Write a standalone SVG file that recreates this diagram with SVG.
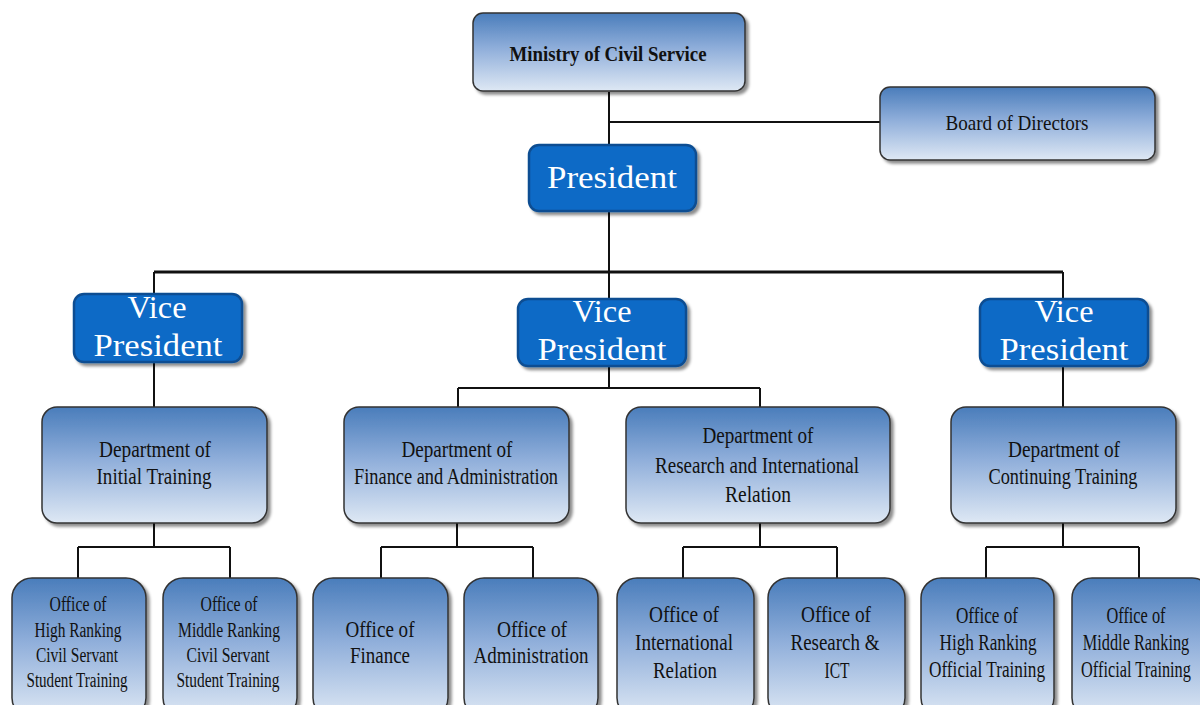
<svg xmlns="http://www.w3.org/2000/svg" width="1200" height="705" viewBox="0 0 1200 705">
<defs>
<linearGradient id="g" x1="0" y1="0" x2="0" y2="1">
<stop offset="0" stop-color="#4A7DBB"/>
<stop offset="0.45" stop-color="#8FAEDA"/>
<stop offset="1" stop-color="#DEE8F4"/>
</linearGradient>
<filter id="sh" x="-10%" y="-10%" width="130%" height="130%">
<feDropShadow dx="3" dy="3" stdDeviation="1.5" flood-color="#000" flood-opacity="0.45"/>
</filter>
</defs>
<style>
.box{fill:url(#g);stroke:#333;stroke-width:1.5;filter:url(#sh)}
.blue{fill:#106AC6;stroke:#0C4E92;stroke-width:2.5;filter:url(#sh)}
.t{font-family:"Liberation Serif",serif;fill:#111;text-anchor:middle}
.w{font-family:"Liberation Serif",serif;fill:#fff;text-anchor:middle;font-size:31px}
.c{fill:none;stroke:#111;stroke-width:2}
</style>
<rect width="1200" height="705" fill="#fff"/>
<g id="connectors">
<path class="c" d="M609 92V145M609 122H880M609 211V299M154 272V294M1063 272V299M609 366V388M458 388H760M458 388V407M760 388V407M154 362V407M1063 366V407M154 523V547M78 547H230M78 547V578M230 547V578M457 523V547M381 547H533M381 547V578M533 547V578M760 523V547M683 547H837M683 547V578M837 547V578M1063 523V547M986 547H1139M986 547V578M1139 547V578"/>
<path d="M154 272H1063" stroke="#111" stroke-width="3" fill="none"/>
</g>
<g id="ministry">
<rect class="box" x="473" y="13" width="272" height="78" rx="10"/>
<text class="t" x="608" y="61" font-size="22" font-weight="bold" textLength="197" lengthAdjust="spacingAndGlyphs">Ministry of Civil Service</text>
</g>
<g id="board">
<rect class="box" x="880" y="87" width="275" height="73" rx="10"/>
<text class="t" x="1017" y="130" font-size="22" textLength="143" lengthAdjust="spacingAndGlyphs">Board of Directors</text>
</g>
<g id="president">
<rect class="blue" x="529" y="145" width="167" height="66" rx="10"/>
<text class="w" x="612" y="188" textLength="130" lengthAdjust="spacingAndGlyphs">President</text>
</g>
<g id="vp1">
<rect class="blue" x="74" y="294" width="168" height="68" rx="10"/>
<text class="w" x="157" y="318" textLength="59" lengthAdjust="spacingAndGlyphs">Vice</text>
<text class="w" x="158" y="356" textLength="129" lengthAdjust="spacingAndGlyphs">President</text>
</g>
<g id="vp2">
<rect class="blue" x="518" y="299" width="168" height="67" rx="10"/>
<text class="w" x="602" y="322" textLength="59" lengthAdjust="spacingAndGlyphs">Vice</text>
<text class="w" x="602" y="360" textLength="129" lengthAdjust="spacingAndGlyphs">President</text>
</g>
<g id="vp3">
<rect class="blue" x="980" y="299" width="168" height="67" rx="10"/>
<text class="w" x="1064" y="322" textLength="59" lengthAdjust="spacingAndGlyphs">Vice</text>
<text class="w" x="1064" y="360" textLength="129" lengthAdjust="spacingAndGlyphs">President</text>
</g>
<g id="dept1">
<rect class="box" x="42" y="407" width="225" height="116" rx="15"/>
<text class="t" x="155" y="457" font-size="23" textLength="112" lengthAdjust="spacingAndGlyphs">Department of</text>
<text class="t" x="154" y="484" font-size="23" textLength="115" lengthAdjust="spacingAndGlyphs">Initial Training</text>
</g>
<g id="dept2">
<rect class="box" x="344" y="407" width="225" height="116" rx="15"/>
<text class="t" x="457" y="457" font-size="23" textLength="111" lengthAdjust="spacingAndGlyphs">Department of</text>
<text class="t" x="456" y="484" font-size="23" textLength="204" lengthAdjust="spacingAndGlyphs">Finance and Administration</text>
</g>
<g id="dept3">
<rect class="box" x="626" y="407" width="264" height="116" rx="15"/>
<text class="t" x="758" y="443" font-size="23" textLength="111" lengthAdjust="spacingAndGlyphs">Department of</text>
<text class="t" x="757" y="473" font-size="23" textLength="204" lengthAdjust="spacingAndGlyphs">Research and International</text>
<text class="t" x="758" y="502" font-size="23" textLength="66" lengthAdjust="spacingAndGlyphs">Relation</text>
</g>
<g id="dept4">
<rect class="box" x="951" y="407" width="225" height="116" rx="15"/>
<text class="t" x="1064" y="457" font-size="23" textLength="112" lengthAdjust="spacingAndGlyphs">Department of</text>
<text class="t" x="1063" y="484" font-size="23" textLength="149" lengthAdjust="spacingAndGlyphs">Continuing Training</text>
</g>
<g id="office1">
<rect class="box" x="12" y="578" width="134" height="140" rx="20"/>
<text class="t" x="78" y="611" font-size="20" textLength="57" lengthAdjust="spacingAndGlyphs">Office of</text>
<text class="t" x="78" y="637" font-size="20" textLength="87" lengthAdjust="spacingAndGlyphs">High Ranking</text>
<text class="t" x="77" y="662" font-size="20" textLength="82" lengthAdjust="spacingAndGlyphs">Civil Servant</text>
<text class="t" x="77" y="687" font-size="20" textLength="101" lengthAdjust="spacingAndGlyphs">Student Training</text>
</g>
<g id="office2">
<rect class="box" x="163" y="578" width="134" height="140" rx="20"/>
<text class="t" x="229" y="611" font-size="20" textLength="57" lengthAdjust="spacingAndGlyphs">Office of</text>
<text class="t" x="229" y="637" font-size="20" textLength="102" lengthAdjust="spacingAndGlyphs">Middle Ranking</text>
<text class="t" x="228" y="662" font-size="20" textLength="83" lengthAdjust="spacingAndGlyphs">Civil Servant</text>
<text class="t" x="228" y="687" font-size="20" textLength="103" lengthAdjust="spacingAndGlyphs">Student Training</text>
</g>
<g id="office3">
<rect class="box" x="313" y="578" width="135" height="140" rx="20"/>
<text class="t" x="380" y="637" font-size="24" textLength="69" lengthAdjust="spacingAndGlyphs">Office of</text>
<text class="t" x="380" y="663" font-size="24" textLength="60" lengthAdjust="spacingAndGlyphs">Finance</text>
</g>
<g id="office4">
<rect class="box" x="464" y="578" width="134" height="140" rx="20"/>
<text class="t" x="532" y="637" font-size="24" textLength="70" lengthAdjust="spacingAndGlyphs">Office of</text>
<text class="t" x="531" y="663" font-size="24" textLength="115" lengthAdjust="spacingAndGlyphs">Administration</text>
</g>
<g id="office5">
<rect class="box" x="617" y="578" width="137" height="140" rx="20"/>
<text class="t" x="684" y="622" font-size="24" textLength="70" lengthAdjust="spacingAndGlyphs">Office of</text>
<text class="t" x="684" y="650" font-size="24" textLength="98" lengthAdjust="spacingAndGlyphs">International</text>
<text class="t" x="685" y="678" font-size="24" textLength="64" lengthAdjust="spacingAndGlyphs">Relation</text>
</g>
<g id="office6">
<rect class="box" x="768" y="578" width="137" height="140" rx="20"/>
<text class="t" x="836" y="622" font-size="24" textLength="70" lengthAdjust="spacingAndGlyphs">Office of</text>
<text class="t" x="835" y="650" font-size="24" textLength="89" lengthAdjust="spacingAndGlyphs">Research &amp;</text>
<text class="t" x="837" y="678" font-size="24" textLength="25" lengthAdjust="spacingAndGlyphs">ICT</text>
</g>
<g id="office7">
<rect class="box" x="921" y="578" width="133" height="140" rx="20"/>
<text class="t" x="987" y="623" font-size="23" textLength="62" lengthAdjust="spacingAndGlyphs">Office of</text>
<text class="t" x="988" y="650" font-size="23" textLength="97" lengthAdjust="spacingAndGlyphs">High Ranking</text>
<text class="t" x="987" y="677" font-size="23" textLength="116" lengthAdjust="spacingAndGlyphs">Official Training</text>
</g>
<g id="office8">
<rect class="box" x="1072" y="578" width="140" height="140" rx="20"/>
<g transform="translate(1136 0) scale(0.71 1)">
<text class="t" x="0" y="623" font-size="23">Office of</text>
<text class="t" x="0" y="650" font-size="23">Middle Ranking</text>
<text class="t" x="0" y="677" font-size="23">Official Training</text>
</g>
</g>
</svg>
